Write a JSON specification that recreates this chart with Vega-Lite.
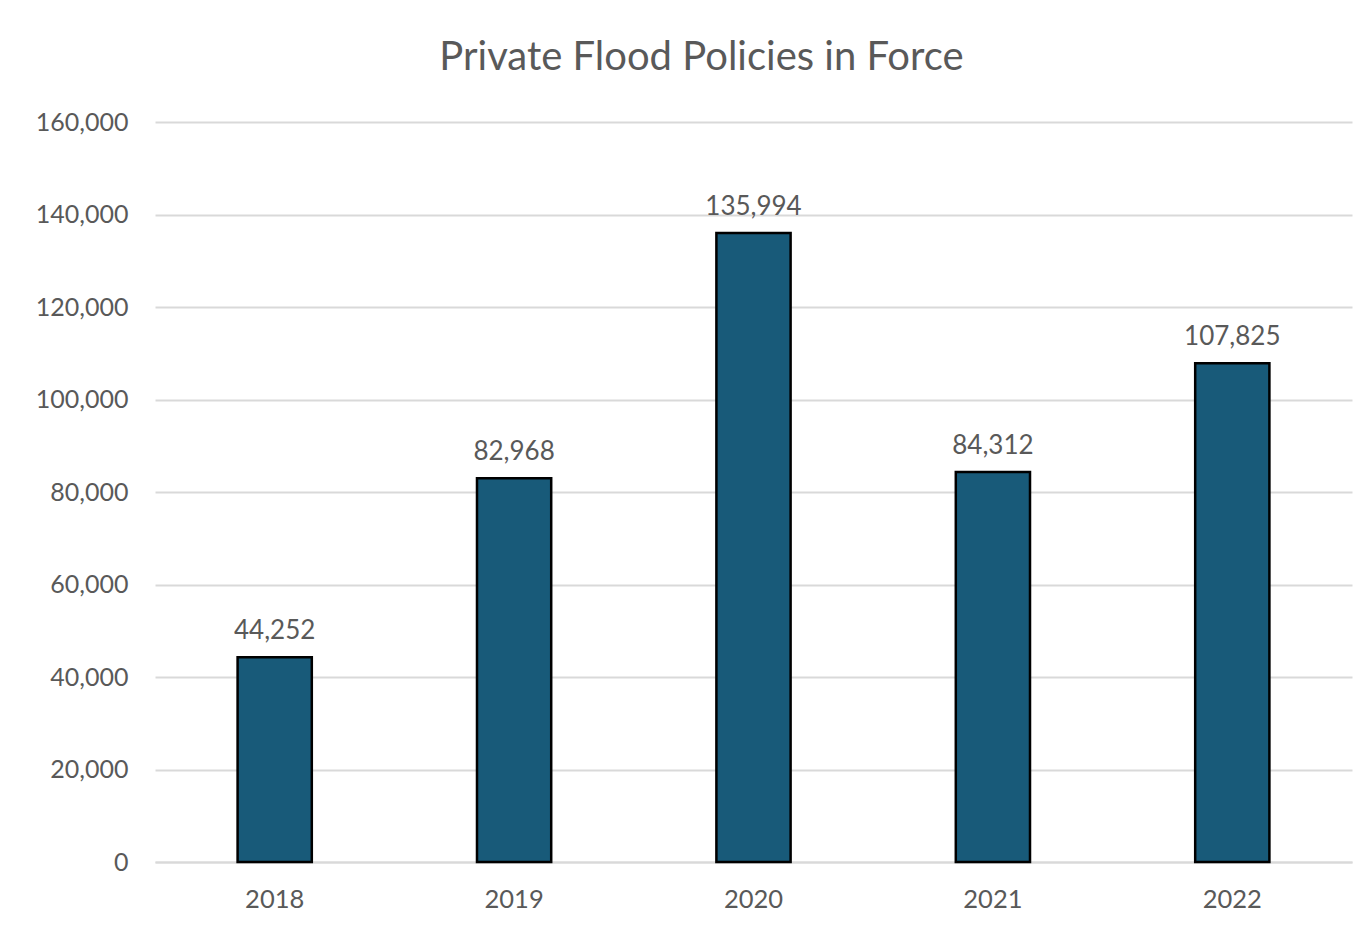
{
  "$schema": "https://vega.github.io/schema/vega-lite/v6.json",
  "autosize": "none",
  "width": 1197,
  "height": 740,
  "padding": {"left": 155, "top": 122, "right": 17, "bottom": 70},
  "background": "white",
  "title": {
    "text": "Private Flood Policies in Force",
    "font": "Lato",
    "fontSize": 40,
    "fontWeight": "normal",
    "color": "#595959",
    "anchor": "middle",
    "dx": -52,
    "offset": 32
  },
  "data": {
    "values": [
      {"year": "2018", "policies": 44252},
      {"year": "2019", "policies": 82968},
      {"year": "2020", "policies": 135994},
      {"year": "2021", "policies": 84312},
      {"year": "2022", "policies": 107825}
    ]
  },
  "encoding": {
    "x": {
      "field": "year",
      "type": "nominal",
      "scale": {"paddingInner": 0.69, "paddingOuter": 0.345},
      "axis": {
        "title": null,
        "labelAngle": 0,
        "labelFont": "Lato",
        "labelFontSize": 25.5,
        "labelColor": "#595959",
        "labelPadding": 25,
        "ticks": false,
        "domainColor": "#d9d9d9",
        "domainWidth": 2
      }
    },
    "y": {
      "field": "policies",
      "type": "quantitative",
      "scale": {"domain": [0, 160000], "nice": false},
      "axis": {
        "title": null,
        "values": [0, 20000, 40000, 60000, 80000, 100000, 120000, 140000, 160000],
        "format": ",d",
        "labelFont": "Lato",
        "labelFontSize": 25,
        "labelColor": "#595959",
        "labelPadding": 27,
        "ticks": false,
        "domain": false,
        "gridColor": "#d9d9d9",
        "gridWidth": 2
      }
    }
  },
  "layer": [
    {
      "mark": {"type": "bar", "fill": "#185a79", "stroke": "#000000", "strokeWidth": 2.5}
    },
    {
      "mark": {"type": "text", "dy": -26, "font": "Lato", "fontSize": 26, "color": "#595959"},
      "encoding": {
        "text": {"field": "policies", "type": "quantitative", "format": ",d"}
      }
    }
  ],
  "config": {
    "view": {"stroke": null}
  }
}
